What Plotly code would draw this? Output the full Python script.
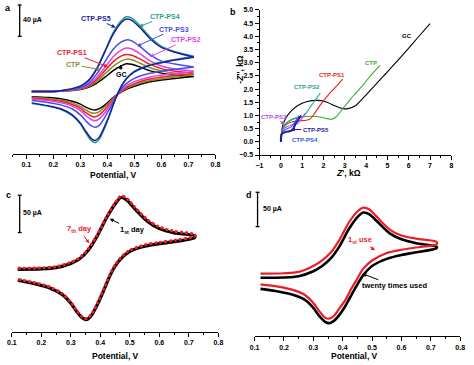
import plotly.graph_objects as go

W, H = 474, 365
FONT = "Liberation Sans"


def px(x):
    return x / W


def py(y):
    return 1 - y / H


# ---------------- Panel a: CVs of modified electrodes (µA vs V) ----------------
x_fwd = [0.12, 0.20, 0.25, 0.30, 0.33, 0.36, 0.39, 0.42, 0.45, 0.47, 0.49, 0.52, 0.56, 0.60, 0.65, 0.72]
x_rev = [0.72, 0.65, 0.60, 0.55, 0.50, 0.47, 0.45, 0.43, 0.41, 0.39, 0.37, 0.355, 0.34, 0.32, 0.30, 0.27, 0.23, 0.18, 0.12]

a_gc_fwd = [2.9, 2.9, 3.8, 5.5, 8.4, 13.4, 21.0, 29.4, 35.7, 38.6, 37.8, 34.4, 29.4, 26.5, 23.9, 22.3]
a_gc_rev = [22.3, 19.7, 17.6, 14.7, 9.7, 5.5, 1.7, -2.5, -8.4, -14.7, -19.3, -21.0, -20.2, -17.2, -13.4, -9.7, -6.7, -5.0, -3.8]
a_ctp_fwd = [2.9, 2.9, 3.8, 5.9, 9.2, 15.5, 25.2, 34.9, 42.0, 44.5, 43.7, 39.5, 33.2, 29.4, 26.5, 24.4]
a_ctp_rev = [24.4, 21.4, 19.3, 16.4, 11.3, 6.7, 2.5, -2.9, -9.7, -17.2, -23.1, -25.2, -24.4, -21.0, -16.4, -11.8, -8.4, -6.3, -4.6]
a_ps1_fwd = [2.9, 2.9, 4.2, 6.7, 10.5, 18.1, 29.4, 40.7, 48.3, 50.4, 49.6, 44.9, 37.4, 32.3, 29.0, 26.5]
a_ps1_rev = [26.5, 23.5, 21.4, 18.5, 13.0, 8.0, 2.9, -3.8, -11.8, -20.6, -27.3, -29.8, -28.6, -24.4, -18.9, -13.9, -10.1, -7.6, -5.5]
a_ps2_fwd = [2.9, 2.9, 4.2, 7.1, 11.8, 21.0, 33.6, 47.0, 55.9, 58.8, 57.5, 51.7, 42.0, 35.7, 31.9, 29.0]
a_ps2_rev = [29.0, 26.0, 23.9, 21.0, 15.5, 10.1, 3.8, -4.6, -14.7, -24.8, -32.3, -34.9, -33.2, -28.1, -21.8, -16.0, -11.8, -8.8, -6.7]
a_ps3_fwd = [2.9, 2.9, 4.6, 8.0, 13.4, 25.2, 40.7, 56.7, 66.4, 69.3, 68.0, 60.9, 49.6, 42.0, 38.2, 34.4]
a_ps3_rev = [34.4, 31.5, 29.0, 25.6, 19.7, 13.0, 5.5, -5.5, -18.1, -30.7, -40.7, -43.3, -41.2, -34.9, -27.3, -19.7, -14.7, -11.3, -8.8]
a_ps4_fwd = [2.9, 2.9, 5.0, 9.7, 17.2, 32.3, 54.6, 77.7, 93.7, 99.1, 97.4, 87.8, 72.2, 60.9, 54.2, 48.3]
a_ps4_rev = [48.3, 44.1, 40.7, 36.5, 29.0, 19.7, 8.8, -6.3, -26.0, -44.1, -58.8, -63.0, -60.1, -50.4, -39.1, -28.1, -20.6, -16.0, -12.6]
a_ps5_fwd = [2.9, 2.9, 5.0, 9.7, 16.8, 31.5, 53.3, 75.6, 91.1, 96.2, 94.5, 85.3, 70.1, 59.6, 53.3, 47.0]
a_ps5_rev = [47.0, 43.3, 39.9, 35.7, 28.1, 18.9, 8.4, -6.3, -25.2, -42.0, -55.9, -60.1, -57.5, -48.3, -37.8, -27.3, -19.7, -15.5, -11.8]

a_names = ["GC", "CTP", "CTP-PS1", "CTP-PS2", "CTP-PS3", "CTP-PS4", "CTP-PS5"]
a_colors = ["#000000", "#8c8c1e", "#ee1c24", "#e040e8", "#4a4af0", "#1fa38a", "#1c1c9c"]

# ---------------- Panel b: Nyquist plots (kΩ) ----------------
b_gc_x = [0.0, 0.03, 0.1, 0.25, 0.5, 0.8, 1.2, 1.7, 2.1, 2.5, 2.8, 3.1, 3.5, 4.0, 4.5, 5.0, 5.5, 6.0, 6.5, 7.0]
b_gc_y = [0.0, 0.35, 0.65, 0.92, 1.18, 1.38, 1.52, 1.57, 1.52, 1.38, 1.28, 1.25, 1.37, 1.78, 2.22, 2.65, 3.1, 3.55, 4.02, 4.48]
b_ctp_x = [0.0, 0.03, 0.1, 0.3, 0.6, 1.0, 1.5, 1.9, 2.2, 2.4, 2.6, 2.9, 3.3, 3.8, 4.2, 4.65]
b_ctp_y = [0.0, 0.3, 0.55, 0.75, 0.88, 0.95, 0.97, 0.93, 0.87, 0.86, 0.95, 1.25, 1.65, 2.1, 2.5, 2.9]
b_ps1_x = [0.0, 0.03, 0.1, 0.3, 0.6, 0.9, 1.2, 1.4, 1.6, 1.9, 2.3, 2.6, 2.9]
b_ps1_y = [0.0, 0.3, 0.5, 0.68, 0.77, 0.8, 0.82, 0.88, 1.1, 1.45, 1.85, 2.1, 2.38]
b_ps2_x = [0.0, 0.03, 0.1, 0.3, 0.6, 0.9, 1.05, 1.2, 1.45, 1.65, 1.85]
b_ps2_y = [0.0, 0.3, 0.5, 0.72, 0.87, 0.93, 0.97, 1.1, 1.4, 1.62, 1.85]
b_ps3_x = [0.0, 0.03, 0.1, 0.3, 0.55, 0.8, 0.95, 1.15]
b_ps3_y = [0.0, 0.3, 0.45, 0.58, 0.65, 0.7, 0.85, 1.08]
b_ps4_x = [0.0, 0.02, 0.1, 0.3, 0.5, 0.65, 0.85]
b_ps4_y = [0.0, 0.25, 0.4, 0.5, 0.58, 0.75, 1.0]
b_ps5_x = [0.0, 0.01, 0.05, 0.2, 0.4, 0.55, 0.7, 0.95]
b_ps5_y = [0.0, 0.15, 0.3, 0.37, 0.4, 0.45, 0.7, 1.0]
b_colors = ["#000000", "#3aa83a", "#ee1c24", "#2aa58c", "#b84de0", "#3358e8", "#1c1c9c"]

# ---------------- Panel c: stability (1st vs 7th day) ----------------
c_day1_fwd = [1.5, 2.0, 3.7, 9.4, 15.5, 27.6, 46.4, 69.4, 88.5, 97.0, 93.5, 80.5, 65.2, 55.7, 50.0, 46.1]
c_day1_rev = [44.0, 38.3, 35.7, 32.2, 25.3, 15.7, 5.7, -9.1, -27.8, -45.2, -59.6, -65.2, -63.5, -54.8, -43.5, -31.8, -23.5, -17.8, -13.0]
c_day7_fwd = [3.0, 3.5, 5.2, 10.9, 17.0, 29.1, 47.9, 70.9, 90.0, 99.2, 95.7, 82.7, 67.4, 57.9, 52.2, 47.9]
c_day7_rev = [45.7, 40.0, 37.4, 33.9, 27.0, 17.4, 7.4, -7.4, -26.1, -43.5, -57.9, -63.9, -62.2, -53.5, -42.2, -30.5, -22.2, -16.5, -11.7]

# ---------------- Panel d: reusability (1st vs 20th use) ----------------
d_use1_fwd = [7.1, 7.6, 9.5, 18.1, 26.2, 38.1, 57.1, 80.9, 97.6, 103.3, 100.9, 88.1, 71.4, 62.8, 58.1, 53.3]
d_use1_rev = [50.0, 45.2, 41.9, 37.1, 26.2, 14.3, 0.0, -14.3, -30.9, -42.8, -54.7, -58.5, -57.1, -47.6, -35.7, -23.8, -16.7, -11.9, -8.6]
d_use20_fwd = [1.0, 1.4, 3.3, 10.5, 18.1, 29.5, 47.6, 71.4, 89.5, 96.2, 93.8, 81.9, 65.7, 57.1, 51.4, 46.2]
d_use20_rev = [44.3, 38.1, 34.3, 28.6, 18.1, 4.8, -8.6, -23.8, -39.5, -52.4, -61.9, -65.2, -63.3, -54.7, -42.8, -30.9, -23.8, -19.0, -15.2]

fig = go.Figure()

# Panel a traces
a_fwd = [a_gc_fwd, a_ctp_fwd, a_ps1_fwd, a_ps2_fwd, a_ps3_fwd, a_ps4_fwd, a_ps5_fwd]
a_rev = [a_gc_rev, a_ctp_rev, a_ps1_rev, a_ps2_rev, a_ps3_rev, a_ps4_rev, a_ps5_rev]
for name, col, f, r in zip(a_names, a_colors, a_fwd, a_rev):
    fig.add_trace(go.Scatter(x=x_fwd + x_rev, y=f + r, mode="lines", name=name,
                             line=dict(color=col, width=1.5, shape="spline", smoothing=0.8),
                             xaxis="x", yaxis="y"))

# Panel b traces
b_xs = [b_gc_x, b_ctp_x, b_ps1_x, b_ps2_x, b_ps3_x, b_ps4_x, b_ps5_x]
b_ys = [b_gc_y, b_ctp_y, b_ps1_y, b_ps2_y, b_ps3_y, b_ps4_y, b_ps5_y]
for i, (name, col, xs, ys) in enumerate(zip(a_names, b_colors, b_xs, b_ys)):
    fig.add_trace(go.Scatter(x=xs, y=ys, mode="lines", name=name,
                             line=dict(color=col, width=2 if i == 6 else 1.1, shape="spline", smoothing=0.6),
                             xaxis="x2", yaxis="y2"))

# Panel c traces
fig.add_trace(go.Scatter(x=x_fwd + x_rev, y=c_day1_fwd + c_day1_rev, mode="lines", name="1st day",
                         line=dict(color="#000000", width=3.2, shape="spline", smoothing=0.8),
                         xaxis="x3", yaxis="y3"))
fig.add_trace(go.Scatter(x=x_fwd + x_rev, y=c_day7_fwd + c_day7_rev, mode="lines", name="7th day",
                         line=dict(color="#ee1c24", width=2.8, dash="3px,2px", shape="spline", smoothing=0.8),
                         xaxis="x3", yaxis="y3"))

# Panel d traces
fig.add_trace(go.Scatter(x=x_fwd + x_rev, y=d_use20_fwd + d_use20_rev, mode="lines", name="twenty times used",
                         line=dict(color="#000000", width=2.6, shape="spline", smoothing=0.8),
                         xaxis="x4", yaxis="y4"))
fig.add_trace(go.Scatter(x=x_fwd + x_rev, y=d_use1_fwd + d_use1_rev, mode="lines", name="1st use",
                         line=dict(color="#ee1c24", width=2.2, shape="spline", smoothing=0.8),
                         xaxis="x4", yaxis="y4"))

tickfont = dict(family=FONT, size=7, color="black", weight="bold")


def xaxis_cfg(domain, rng, anchor, dtick, tick0, minor_dtick, fmt):
    return dict(domain=domain, range=rng, anchor=anchor, showline=True, linecolor="black", linewidth=1,
                ticks="outside", ticklen=4, tickwidth=1, tickcolor="black", showgrid=False, zeroline=False,
                tickmode="linear", dtick=dtick, tick0=tick0, tickformat=fmt, tickfont=tickfont,
                minor=dict(ticks="outside", ticklen=2, tickcolor="black", dtick=minor_dtick, tick0=tick0,
                           showgrid=False))


def hidden_y(domain, rng, anchor):
    return dict(domain=domain, range=rng, anchor=anchor, visible=False, showgrid=False, zeroline=False)


fig.update_layout(
    width=W, height=H, margin=dict(l=0, r=0, t=0, b=0),
    paper_bgcolor="white", plot_bgcolor="white", showlegend=False,
    font=dict(family=FONT, color="black"),
    xaxis=xaxis_cfg([px(8), px(215)], [0.05, 0.8], "y", 0.1, 0.1, 0.05, ".1f"),
    yaxis=hidden_y([py(153), 1.0], [-77.7, 115.5], "x"),
    xaxis2=xaxis_cfg([px(260), px(456)], [-1, 8], "y2", 1, 0, 0.5, "d"),
    yaxis2=dict(domain=[py(154), py(6)], range=[-0.5, 5.0], anchor="x2", showline=True, linecolor="black",
                linewidth=1, ticks="outside", ticklen=4, tickwidth=1, tickcolor="black", showgrid=False,
                zeroline=False, tickmode="linear", dtick=0.5, tick0=0, tickformat=".1f", tickfont=tickfont,
                minor=dict(ticks="outside", ticklen=2, tickcolor="black", dtick=0.25, tick0=0, showgrid=False)),
    xaxis3=xaxis_cfg([px(7), px(218)], [0.1, 0.8], "y3", 0.1, 0.1, 0.05, ".1f"),
    yaxis3=hidden_y([py(334), py(185)], [-81.3, 113.1], "x3"),
    xaxis4=xaxis_cfg([px(255), px(465)], [0.1, 0.8], "y4", 0.1, 0.1, 0.05, ".1f"),
    yaxis4=hidden_y([py(339), py(185)], [-84.7, 135.7], "x4"),
)

annotations = []


def text(t, x, y, color="black", size=7, angle=0, tip=None):
    a = dict(text=t, xref="paper", yref="paper", showarrow=False, textangle=angle,
             font=dict(family=FONT, size=size, color=color, weight="bold"),
             xanchor="center", yanchor="middle")
    if tip is None:
        a.update(x=px(x), y=py(y))
    else:
        a.update(x=px(tip[0]), y=py(tip[1]), showarrow=True, ax=x - tip[0], ay=y - tip[1],
                 arrowhead=2, arrowsize=0.8, arrowwidth=1, arrowcolor=color, standoff=0)
    annotations.append(a)


# panel letters
text("a", 3, 4, size=9)
text("b", 233, 8, size=9)
text("c", 4, 195, size=9)
text("d", 249, 195, size=9)

# axis titles
text("Potential, V", 111, 174, size=8.5)
text("Potential, V", 113, 359, size=8.5)
text("Potential, V", 357, 359, size=8.5)
text("<i>Z</i>', kΩ", 351, 172, size=8.5)
text("-<i>Z</i>'', kΩ", 240, 66, size=8.5, angle=-90)

# scale bar labels
text("40 µA", 28, 16, size=7)
text("50 µA", 28, 213, size=7)
text("50 µA", 273, 209, size=7)

# panel a labels
text("CTP-PS5", 93, 15, a_colors[6], tip=(113, 24))
text("CTP-PS4", 163, 13, a_colors[5], tip=(137, 23))
text("CTP-PS3", 172, 26, a_colors[4], tip=(135, 43))
text("CTP-PS2", 184, 37, a_colors[3], tip=(148, 54))
text("CTP-PS1", 69, 50, a_colors[2], tip=(105, 64))
text("CTP", 70, 62, a_colors[1], tip=(98, 67))
text("GC", 119, 72, "black", tip=(118, 62))

# panel b labels
text("GC", 411, 33, b_colors[0], size=6)
text("CTP", 374, 60, b_colors[1], size=6)
text("CTP-PS1", 334, 72, b_colors[2], size=6)
text("CTP-PS2", 309, 85, b_colors[3], size=6)
text("CTP-PS3", 275, 115, b_colors[4], size=6, tip=(286, 123))
text("CTP-PS5", 317, 128, b_colors[6], size=6, tip=(292, 128))
text("CTP-PS4", 306, 139, b_colors[5], size=6, tip=(288, 131))

# panel c labels
text("7<sub>th</sub> day", 76, 230, "#ee1c24", size=7.5, tip=(86, 244))
text("1<sub>st</sub> day", 130, 230, "black", size=7.5, tip=(107, 219))

# panel d labels
text("1<sub>st</sub> use", 363, 241, "#ee1c24", size=7.5, tip=(378, 251))
text("twenty times used", 397, 287, "black", size=7.5, tip=(365, 275))

fig.update_layout(annotations=annotations)

# scale bars
shapes = []


def scalebar(x, y0, y1):
    line = dict(color="black", width=1.3)
    shapes.append(dict(type="line", xref="paper", yref="paper", x0=px(x), x1=px(x), y0=py(y0), y1=py(y1), line=line))
    for yy in (y0, y1):
        shapes.append(dict(type="line", xref="paper", yref="paper", x0=px(x - 2), x1=px(x + 2), y0=py(yy), y1=py(yy), line=line))


scalebar(15, 1, 33)
scalebar(15, 195, 233)
scalebar(258, 192, 227)
fig.update_layout(shapes=shapes)

fig.write_html("out.html", config={"displayModeBar": False},
               post_script="document.body.style.margin='0';document.body.style.overflow='hidden';")
